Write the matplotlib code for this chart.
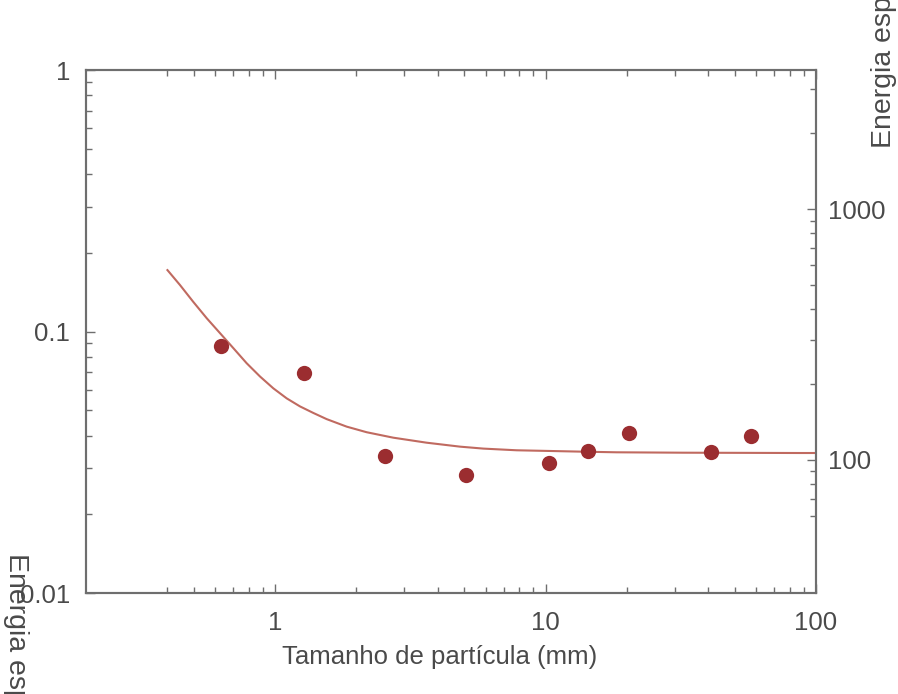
import numpy as np
import matplotlib.pyplot as plt
from matplotlib.ticker import FixedLocator, FixedFormatter, NullFormatter

plt.rcParams['font.family'] = ['Liberation Sans', 'DejaVu Sans']

# measured points: particle size (mm) vs specific energy
size_mm = [0.63, 1.28, 2.56, 5.1, 10.3, 14.4, 20.4, 40.9, 57.4]
energy = [285, 222, 104, 87, 97, 109, 128, 108, 125]

# fitted curve read along its length
fit_size = [0.4, 0.445, 0.498, 0.559, 0.626, 0.701, 0.785, 0.88, 0.985,
            1.104, 1.236, 1.384, 1.551, 1.839, 2.18, 2.735, 3.63, 4.83,
            5.89, 7.82, 10.4, 13.8, 18.3, 32.3, 87, 100]
fit_energy = [571, 498, 427, 367, 320, 279, 243, 215, 193,
              176, 163.5, 154, 145.5, 135.8, 129, 122.7, 117.2, 113,
              111, 109.3, 108.6, 107.9, 107.3, 106.9, 106.6, 106.6]

x_major = [1, 10, 100]
x_minor = [0.4, 0.5, 0.6, 0.7, 0.8, 0.9, 2, 3, 4, 5, 6, 7, 8, 9,
           20, 30, 40, 50, 60, 70, 80, 90]
left_major = [0.01, 0.1, 1]
left_labels = ['0.01', '0.1', '1']
right_major = [100, 1000]
right_minor = [60, 70, 80, 90, 200, 300, 400, 500, 600, 700, 800, 900, 2000, 3000]

axis_grey = '#6e6e6e'
text_grey = '#4a4a4a'

fig = plt.figure(figsize=(8.98, 6.94), dpi=100)
ax = fig.add_axes([0.0958, 0.1455, 0.8129, 0.7536])
ax2 = ax.twinx()

ax.set_xscale('log')
ax.set_yscale('log')
ax.set_xlim(0.2, 100)
ax.set_ylim(0.01, 1)
ax2.set_yscale('log')
ax2.set_ylim(29.5, 3580)

ax2.plot(fit_size, fit_energy, color='#c06a60', lw=1.5, zorder=2)
ax2.plot(size_mm, energy, 'o', color='#9b2d30', markersize=11, mec='none', zorder=3)

ax.xaxis.set_major_locator(FixedLocator(x_major))
ax.xaxis.set_major_formatter(FixedFormatter([str(v) for v in x_major]))
ax.xaxis.set_minor_locator(FixedLocator(x_minor))
ax.xaxis.set_minor_formatter(NullFormatter())
ax.yaxis.set_major_locator(FixedLocator(left_major))
ax.yaxis.set_major_formatter(FixedFormatter(left_labels))
ax2.yaxis.set_major_locator(FixedLocator(right_major))
ax2.yaxis.set_major_formatter(FixedFormatter([str(v) for v in right_major]))
ax2.yaxis.set_minor_locator(FixedLocator(right_minor))
ax2.yaxis.set_minor_formatter(NullFormatter())

ax.tick_params(which='both', direction='in', top=True, right=False,
               color=axis_grey, width=1, labelcolor=text_grey, labelsize=18.5)
ax.tick_params(which='major', length=6.5)
ax.tick_params(which='minor', length=4.3)
ax.tick_params(axis='x', pad=13)
ax.tick_params(axis='y', pad=11.5)
ax2.tick_params(which='both', direction='in', color=axis_grey, width=1,
                labelcolor=text_grey, labelsize=18.5, pad=8.5)
ax2.tick_params(which='major', length=6.5)
ax2.tick_params(which='minor', length=4.3)

for a in (ax, ax2):
    for s in a.spines.values():
        s.set_color(axis_grey)
        s.set_linewidth(1.5)

fig.text(0.49, 1 - 657 / 694, 'Tamanho de partícula (mm)', ha='center', va='center',
         fontsize=18.5, color=text_grey)
fig.text(16 / 898, 1 - 553 / 694, 'Energia específica', rotation=-90, ha='center',
         va='top', fontsize=20.5, color=text_grey)
fig.text(884 / 898, 1 - 148 / 694, 'Energia específica', rotation=90, ha='center',
         va='bottom', fontsize=20.5, color=text_grey)

fig.savefig('out.png', dpi=100)
